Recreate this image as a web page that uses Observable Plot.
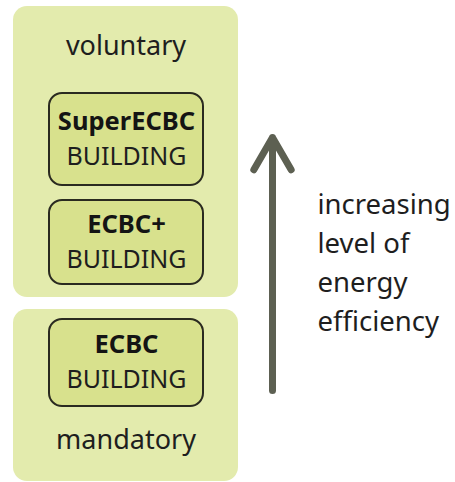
<!DOCTYPE html>
<html>
<head>
<meta charset="utf-8">
<script src="https://cdn.jsdelivr.net/npm/d3@7"></script>
<script src="https://cdn.jsdelivr.net/npm/@observablehq/plot@0.6"></script>
<style>
  html, body { margin: 0; padding: 0; background: #ffffff; }
  svg { display: block; }
</style>
</head>
<body>
<div id="chart"></div>
<script>
// Groups (outer panels) and their labels
const groups = ["voluntary", "mandatory"];
// Building levels (inner boxes), top to bottom
const levels = ["SuperECBC", "ECBC+", "ECBC"];
const levelGroup = ["voluntary", "voluntary", "mandatory"];
const subLabel = "BUILDING";
// Arrow annotation
const arrowLines = ["increasing", "level of", "energy", "efficiency"];

// Layout (pixel coordinates in the diagram space)
const W = 455, H = 482;
const panelBox = {
  voluntary: {x1: 13, x2: 238, y1: 6, y2: 297, labelY: 46},
  mandatory: {x1: 13, x2: 238, y1: 309, y2: 481, labelY: 440}
};
const levelBox = [
  {x1: 49, x2: 203, y1: 93, y2: 185},
  {x1: 49, x2: 203, y1: 200, y2: 284},
  {x1: 49, x2: 203, y1: 319, y2: 406}
];

const panels = groups.map(g => ({name: g, ...panelBox[g]}));
const boxes = levels.map((l, i) => ({name: l, group: levelGroup[i], ...levelBox[i]}));
const arrow = [{x1: 272, y1: 390, x2: 272, y2: 137}];
const annot = arrowLines.map((t, i) => ({t, x: 317, y: 205 + i * 39}));

const font = "'Noto Sans', 'Open Sans', sans-serif";

const chart = Plot.plot({
  width: W,
  height: H,
  margin: 0,
  x: {domain: [0, W], range: [0, W], axis: null},
  y: {domain: [0, H], range: [0, H], axis: null},
  style: {fontFamily: font, background: "#ffffff"},
  marks: [
    Plot.rect(panels, {x1: "x1", x2: "x2", y1: "y1", y2: "y2", fill: "#e3ebad", rx: 14}),
    Plot.rect(boxes, {x1: "x1", x2: "x2", y1: "y1", y2: "y2", fill: "#d8e18d", stroke: "#2a2a20", strokeWidth: 2, rx: 13}),
    Plot.text(panels, {x: d => (d.x1 + d.x2) / 2, y: "labelY", text: "name", fontSize: 27, fill: "#1e1e1e", lineAnchor: "middle"}),
    Plot.text(boxes, {x: d => (d.x1 + d.x2) / 2, y: d => (d.y1 + d.y2) / 2 - 18, text: "name", fontSize: 25.5, fontWeight: "bold", fill: "#141414", lineAnchor: "middle"}),
    Plot.text(boxes, {x: d => (d.x1 + d.x2) / 2, y: d => (d.y1 + d.y2) / 2 + 17, text: () => subLabel, fontSize: 25, fill: "#1e1e1e", lineAnchor: "middle"}),
    Plot.arrow(arrow, {x1: "x1", y1: "y1", x2: "x2", y2: "y2", stroke: "#5d6052", strokeWidth: 7, headLength: 8}),
    Plot.text(annot, {x: "x", y: "y", text: "t", fontSize: 27.5, fill: "#1e1e1e", textAnchor: "start", lineAnchor: "middle"})
  ]
});
document.getElementById("chart").appendChild(chart);
</script>
</body>
</html>
